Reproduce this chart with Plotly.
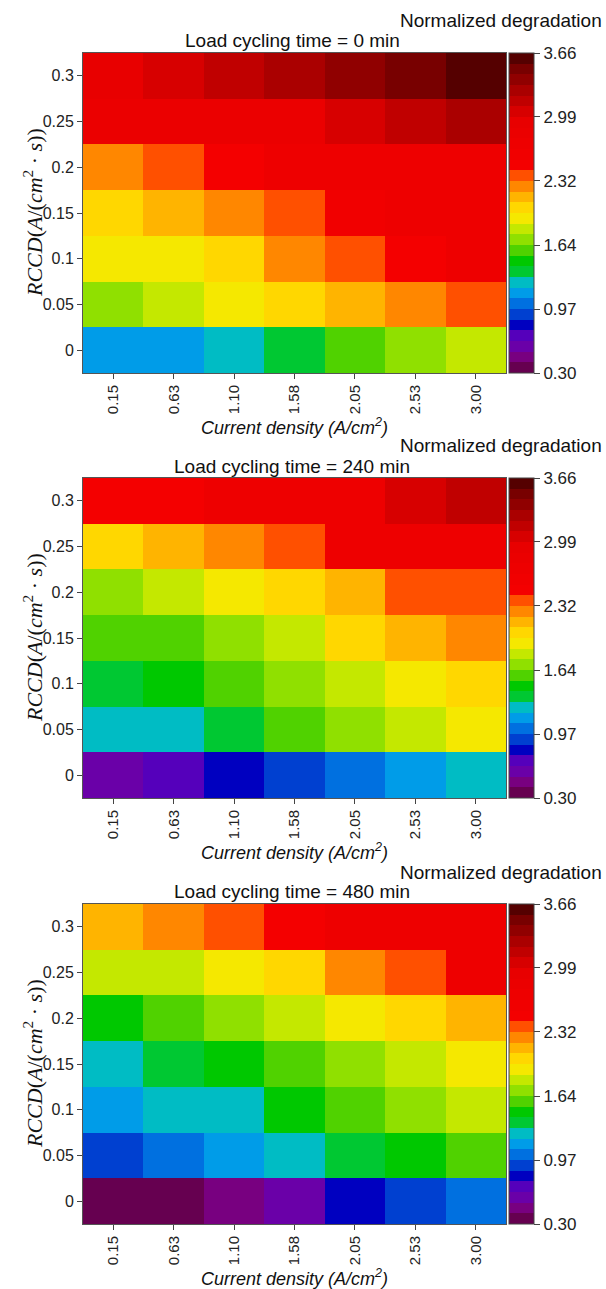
import plotly.graph_objects as go

# ---------------- data ----------------
current_density = ["0.15", "0.63", "1.10", "1.58", "2.05", "2.53", "3.00"]
rccd = [0, 0.05, 0.1, 0.15, 0.2, 0.25, 0.3]
rccd_labels = ["0", "0.05", "0.1", "0.15", "0.2", "0.25", "0.3"]
times = [0, 240, 480]

# rows ordered from RCCD = 0 (bottom) to 0.3 (top)
deg_0min = [
    [1.14, 1.14, 1.25, 1.36, 1.59, 1.70, 1.81],
    [1.70, 1.81, 1.92, 2.04, 2.15, 2.26, 2.37],
    [1.92, 1.92, 2.04, 2.26, 2.37, 2.48, 2.71],
    [2.04, 2.15, 2.26, 2.37, 2.60, 2.71, 2.71],
    [2.26, 2.37, 2.48, 2.71, 2.71, 2.71, 2.71],
    [2.82, 2.82, 2.82, 2.82, 3.04, 3.16, 3.27],
    [2.93, 3.04, 3.16, 3.27, 3.38, 3.49, 3.60],
]
deg_240min = [
    [0.58, 0.69, 0.80, 0.92, 1.03, 1.14, 1.25],
    [1.25, 1.25, 1.36, 1.59, 1.70, 1.81, 1.92],
    [1.36, 1.48, 1.59, 1.70, 1.81, 1.92, 2.04],
    [1.59, 1.59, 1.70, 1.81, 2.04, 2.15, 2.26],
    [1.70, 1.81, 1.92, 2.04, 2.15, 2.37, 2.37],
    [2.04, 2.15, 2.26, 2.37, 2.71, 2.71, 2.71],
    [2.48, 2.48, 2.71, 2.71, 2.71, 3.04, 3.16],
]
deg_480min = [
    [0.36, 0.36, 0.47, 0.58, 0.80, 0.92, 1.03],
    [0.92, 1.03, 1.14, 1.25, 1.36, 1.48, 1.59],
    [1.14, 1.25, 1.25, 1.48, 1.59, 1.70, 1.81],
    [1.25, 1.36, 1.48, 1.59, 1.70, 1.81, 1.92],
    [1.48, 1.59, 1.70, 1.81, 1.92, 2.04, 2.15],
    [1.81, 1.81, 1.92, 2.04, 2.26, 2.37, 2.71],
    [2.15, 2.26, 2.37, 2.48, 2.71, 2.71, 2.71],
]

cbar_ticks = [0.30, 0.97, 1.64, 2.32, 2.99, 3.66]
cbar_labels = ["0.30", "0.97", "1.64", "2.32", "2.99", "3.66"]
zmin, zmax = 0.30, 3.66

band_colors = [
    "#660050", "#780080", "#6a00a8", "#5500bb", "#0000c0", "#0040d0",
    "#0070e0", "#009ce8", "#00bcc4", "#00c832", "#00c800", "#50d200",
    "#90e000", "#c4e800", "#f5e800", "#ffd700", "#ffb400", "#ff8700",
    "#ff5000", "#f40000", "#f10000", "#ee0000", "#eb0000", "#e80000",
    "#d70000", "#c00000", "#aa0000", "#900000", "#780000", "#550000",
]

# stepwise colorscale
n = len(band_colors)
colorscale = []
for i, c in enumerate(band_colors):
    colorscale.append([i / n, c])
    colorscale.append([(i + 1) / n, c])

W, H = 606, 1289
def px_x(p):
    return p / W
def px_y(p):
    return 1 - p / H

panels = [
    (deg_0min, 53, 373),
    (deg_240min, 478, 798),
    (deg_480min, 904, 1224),
]
x_left, x_right = 83, 506

fig = go.Figure()
annotations = []
axis_font = dict(family="Liberation Sans, Arial", size=16, color="#222")
xtick_font = dict(family="Liberation Sans, Arial", size=15, color="#222")
title_font = dict(family="Liberation Sans, Arial", size=19, color="#111")

for k, (z, top, bot) in enumerate(panels):
    xa = "x" if k == 0 else f"x{k+1}"
    ya = "y" if k == 0 else f"y{k+1}"
    fig.add_trace(go.Heatmap(
        x=current_density, y=rccd, z=z,
        xaxis=xa, yaxis=ya,
        zmin=zmin, zmax=zmax, colorscale=colorscale,
        xgap=0, ygap=0,
        colorbar=dict(
            x=px_x(509), xanchor="left",
            y=px_y((top + bot) / 2), yanchor="middle",
            len=(bot - top) / H, lenmode="fraction",
            thickness=25, thicknessmode="pixels",
            xpad=0, ypad=0,
            outlinewidth=1, outlinecolor="#444",
            tickvals=cbar_ticks, ticktext=cbar_labels,
            ticks="outside", ticklen=6, tickcolor="#444",
            tickfont=dict(family="Liberation Sans, Arial", size=17, color="#222"),
        ),
    ))
    xkey = "xaxis" if k == 0 else f"xaxis{k+1}"
    ykey = "yaxis" if k == 0 else f"yaxis{k+1}"
    fig.update_layout(**{
        xkey: dict(
            domain=[px_x(x_left), px_x(x_right)], anchor=ya,
            type="category", range=[-0.5, 6.5],
            tickangle=-90, ticks="outside", ticklen=5, tickcolor="#444",
            showline=True, linecolor="#555", linewidth=1, mirror=True,
            showgrid=False, zeroline=False, tickfont=xtick_font,
        ),
        ykey: dict(
            domain=[px_y(bot), px_y(top)], anchor=xa,
            range=[-0.025, 0.325], tickvals=rccd, ticktext=rccd_labels,
            ticks="outside", ticklen=5, tickcolor="#444",
            showline=True, linecolor="#555", linewidth=1, mirror=True,
            showgrid=False, zeroline=False, tickfont=axis_font,
        ),
    })
    annotations += [
        dict(text="Normalized degradation", x=px_x(604), xanchor="right",
             y=px_y(top - 32), yanchor="middle", xref="paper", yref="paper",
             showarrow=False, font=title_font),
        dict(text=f"Load cycling time = {times[k]} min", x=px_x(292), xanchor="center",
             y=px_y(top - 12), yanchor="middle", xref="paper", yref="paper",
             showarrow=False, font=title_font),
        dict(text="<i>Current density (A/cm<sup>2</sup>)</i>", x=px_x(294), xanchor="center",
             y=px_y(bot + 53), yanchor="middle", xref="paper", yref="paper",
             showarrow=False, font=dict(family="Liberation Sans, Arial", size=18, color="#111")),
        dict(text="<i>RCCD</i>(<i>A</i>/(<i>cm</i><sup>2</sup> · <i>s</i>))", x=px_x(33), xanchor="center",
             y=px_y((top + bot) / 2), yanchor="middle", xref="paper", yref="paper",
             textangle=-90, showarrow=False,
             font=dict(family="Liberation Serif, DejaVu Serif", size=22, color="#111")),
    ]

fig.update_layout(
    width=W, height=H,
    margin=dict(l=0, r=0, t=0, b=0),
    paper_bgcolor="white", plot_bgcolor="white",
    annotations=annotations,
    showlegend=False,
)

fig.write_html("out.html")
